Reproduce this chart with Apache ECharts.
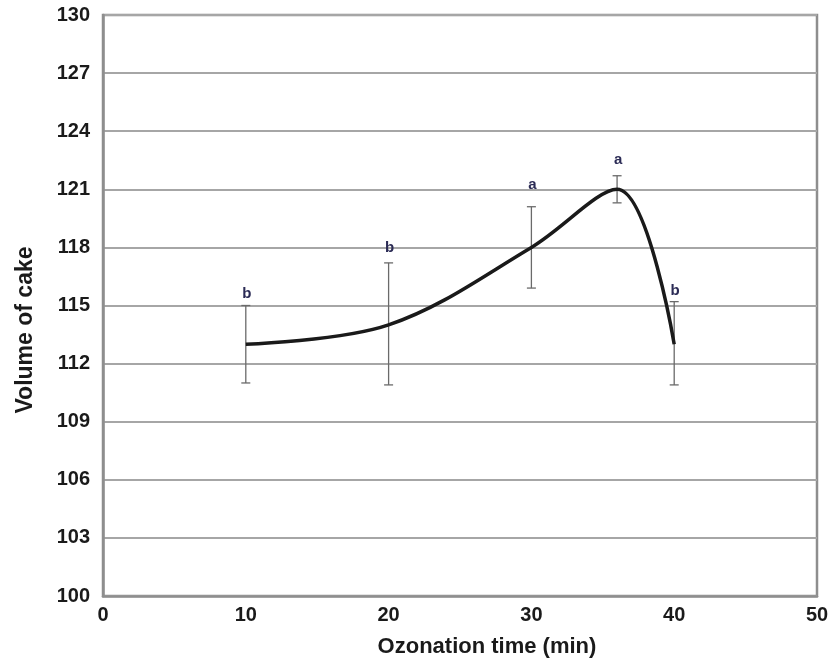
<!DOCTYPE html>
<html><head><meta charset="utf-8">
<script src="https://cdn.jsdelivr.net/npm/echarts@6/dist/echarts.min.js"></script>
<style>html,body{margin:0;padding:0;background:#fff}#c{width:835px;height:664px}</style>
</head><body><div id="c"></div>
<script>
var times = [10, 20, 30, 36, 40];
var volume = [113, 114, 118, 121, 113];
var errLow = [111, 110.9, 115.9, 120.3, 110.9];
var errHigh = [115, 117.2, 120.1, 121.7, 115.2];
var letters = ['b', 'b', 'a', 'a', 'b'];
var xTicks = [0, 10, 20, 30, 40, 50];
var yTicks = [100, 103, 106, 109, 112, 115, 118, 121, 124, 127, 130];
var xTitle = 'Ozonation time (min)';
var yTitle = 'Volume of cake';

// pixel gaps between each error-bar top and its letter (styling only)
var letterGap = [4, 8, 14, 8, 3];

var chart = echarts.init(document.getElementById('c'));
var lineData = times.map(function(t, i){ return [t, volume[i]]; });
var errData = times.map(function(t, i){ return [t, errLow[i], errHigh[i]]; });
var font = 'Arial, "Liberation Sans", sans-serif';

chart.setOption({
  animation: false,
  grid: {left: 103, right: 18, top: 15, bottom: 68, show: true, borderColor: '#8e8e8e', borderWidth: 2.5},
  xAxis: {
    type: 'value', min: xTicks[0], max: xTicks[xTicks.length-1], interval: 10,
    axisLine: {show: true, lineStyle: {color: '#8e8e8e', width: 2.5}},
    axisTick: {show: false}, splitLine: {show: false},
    axisLabel: {margin: 9, fontFamily: font, fontWeight: 'bold', fontSize: 20, color: '#1a1a1a'}
  },
  yAxis: {
    type: 'value', min: yTicks[0], max: yTicks[yTicks.length-1], interval: 3,
    axisLine: {show: true, lineStyle: {color: '#8e8e8e', width: 2.5}},
    axisTick: {show: false},
    splitLine: {show: true, lineStyle: {color: '#a6a6a6', width: 2}},
    axisLabel: {margin: 13, fontFamily: font, fontWeight: 'bold', fontSize: 20, color: '#1a1a1a'}
  },
  graphic: [
    {type: 'text', x: 487, y: 647, style: {text: xTitle, align: 'center', verticalAlign: 'middle', font: 'bold 22px ' + font, fill: '#1a1a1a'}},
    {type: 'text', x: 26, y: 330, rotation: Math.PI/2, style: {text: yTitle, align: 'center', verticalAlign: 'middle', font: 'bold 23px ' + font, fill: '#1a1a1a'}}
  ],
  series: [
    {
      type: 'custom', data: errData, z: 3,
      renderItem: function(params, api){
        var x = api.value(0);
        var lo = api.coord([x, api.value(1)]);
        var hi = api.coord([x, api.value(2)]);
        var cw = 4.5;
        var st = {stroke: '#6a6a6a', lineWidth: 1.3};
        return {type: 'group', children: [
          {type: 'line', shape: {x1: lo[0], y1: lo[1], x2: hi[0], y2: hi[1]}, style: st},
          {type: 'line', shape: {x1: lo[0]-cw, y1: lo[1], x2: lo[0]+cw, y2: lo[1]}, style: st},
          {type: 'line', shape: {x1: hi[0]-cw, y1: hi[1], x2: hi[0]+cw, y2: hi[1]}, style: st},
          {type: 'text', style: {text: letters[params.dataIndex], x: hi[0]+1, y: hi[1]-letterGap[params.dataIndex], align: 'center', verticalAlign: 'bottom',
            fontFamily: font, fontWeight: 'bold', fontSize: 15, fill: '#2b2b55'}}
        ]};
      }
    },
    {
      type: 'line', data: lineData, smooth: 0.35, symbol: 'none', z: 4,
      lineStyle: {color: '#1a1a1a', width: 3.5}
    }
  ]
});
</script></body></html>
